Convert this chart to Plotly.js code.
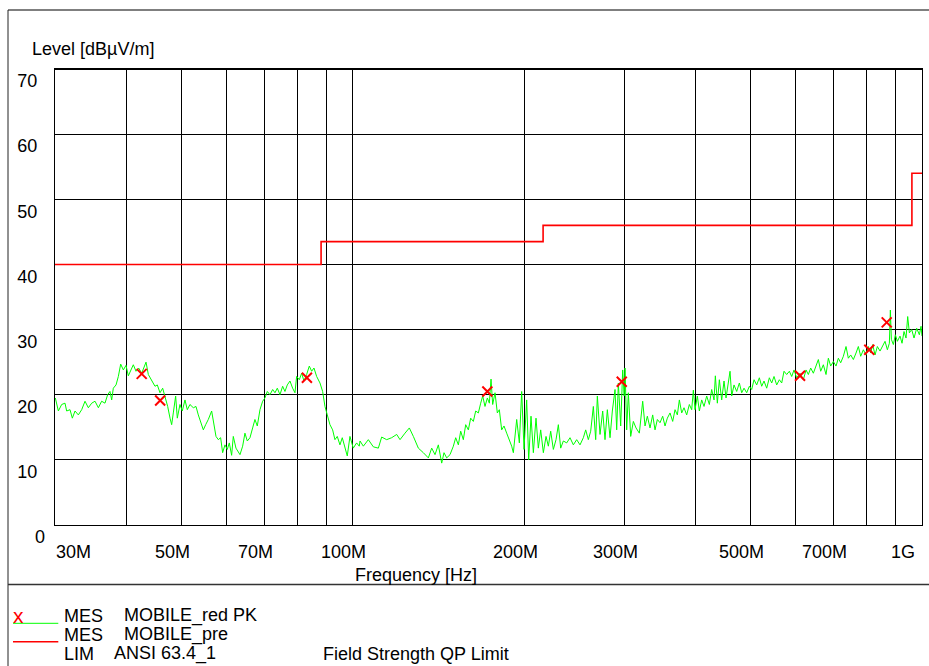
<!DOCTYPE html>
<html><head><meta charset="utf-8">
<script src="https://cdn.plot.ly/plotly-3.0.1.min.js"></script>
<style>html,body{margin:0;padding:0;background:#fff}#chart{width:929px;height:666px}</style>
</head><body><div id="chart"></div>
<script>
// ---- data (frequency in MHz, level in dBµV/m) ----
const freqMHz = [
30.04, 30.41, 30.82, 31.24, 31.45, 31.88, 32.18, 32.53, 32.97, 33.42,
33.87, 34.33, 34.80, 35.27, 35.75, 36.23, 36.72, 37.12, 37.47, 37.73,
37.98, 38.40, 38.76, 39.13, 39.55, 39.98, 40.36, 40.74, 41.18, 41.63,
42.08, 42.60, 43.00, 43.35, 43.76, 44.35, 44.95, 45.38, 45.87, 46.37,
46.81, 47.32, 47.77, 48.09, 48.41, 48.87, 49.20, 49.73, 50.20, 50.75,
51.23, 51.78, 52.49, 53.06, 53.56, 54.07, 54.66, 55.18, 55.77, 56.53,
56.91, 57.53, 58.07, 58.62, 59.10, 59.66, 60.22, 60.71, 61.29, 61.70,
62.37, 62.96, 63.39, 64.08, 64.68, 65.30, 66.01, 66.72, 67.35, 67.99,
68.73, 69.48, 70.13, 70.80, 71.57, 72.35, 73.03, 73.72, 74.52, 75.33,
76.04, 76.76, 77.60, 78.44, 79.18, 79.72, 80.58, 81.35, 82.12, 83.01,
83.91, 84.71, 85.51, 86.44, 87.61, 88.56, 89.40, 90.24, 91.22, 92.21,
93.08, 93.96, 94.98, 95.88, 96.92, 97.84, 98.90, 100.24, 101.60, 102.70,
103.01, 104.40, 106.54, 108.71, 110.94, 112.44, 114.74, 117.08, 119.48, 121.10,
123.57, 125.75, 127.81, 130.42, 133.08, 135.80, 137.65, 139.51, 141.40, 143.33,
144.68, 146.25, 148.24, 150.25, 151.68, 153.32, 154.78, 156.45, 157.94, 159.65,
161.16, 162.91, 164.46, 166.24, 167.82, 169.18, 170.78, 172.40, 173.80, 174.98,
176.16, 177.83, 179.51, 180.97, 182.69, 184.42, 186.42, 188.44, 190.23, 191.52,
194.12, 196.22, 198.08, 199.96, 202.13, 203.77, 205.70, 207.65, 209.90, 211.89,
213.91, 216.22, 218.57, 220.64, 222.74, 225.15, 227.59, 229.75, 231.93, 234.44,
237.63, 240.85, 244.12, 247.43, 250.79, 254.19, 256.61, 259.38, 261.85, 264.69,
267.20, 269.00, 271.92, 274.87, 277.47, 280.10, 283.14, 285.82, 288.93, 290.89,
292.85, 295.63, 298.03, 299.84, 300.85, 302.89, 304.93, 307.83, 311.16, 314.54,
318.80,
323.14, 326.20, 329.29, 332.86, 336.48, 339.66, 342.88, 346.60, 350.36, 353.69,
357.03, 360.91, 364.83, 368.28, 371.77, 374.79, 378.35, 381.93, 386.08, 390.26,
393.97, 396.62, 399.31, 403.09, 406.37, 410.23, 414.11, 418.61, 423.14, 427.16,
431.21, 433.53, 437.05, 440.60, 444.79, 449.00, 452.65, 456.93, 460.03, 463.15,
467.53, 472.61, 477.72, 482.27, 486.83, 492.12, 497.45, 502.17, 506.93, 512.43,
517.98, 522.90, 527.85, 533.58, 539.35, 544.48, 549.64, 555.61, 561.62, 566.96,
572.32, 578.54, 584.80, 590.36, 595.95, 602.42, 610.59, 618.87, 625.58, 631.51,
637.52, 644.41, 651.41, 657.57, 663.82, 671.00, 678.29, 684.72, 691.22, 698.70,
706.29, 712.97, 719.76, 727.55, 735.44, 742.40, 749.47, 757.58, 765.80, 773.05,
780.41, 788.85, 797.41, 804.96, 812.61, 819.21, 826.97, 834.80, 843.87, 853.03,
861.10, 869.26, 876.32, 879.87, 883.44, 890.61, 897.85, 905.14, 914.97, 922.40,
929.90, 937.45, 943.80, 950.16, 959.19, 968.28, 978.80, 989.39, 996.08, 1000
];
const levelDb = [
19.5, 17.5, 18.5, 18.7, 17.5, 17.7, 16.4, 17.5, 16.9, 17.7,
19.0, 18.0, 18.7, 19.0, 18.0, 19.0, 18.7, 20.0, 20.5, 19.2,
21.0, 21.5, 22.8, 24.7, 23.8, 24.5, 22.9, 23.8, 24.6, 23.6,
24.1, 23.3, 24.4, 25.0, 23.1, 22.3, 21.3, 21.5, 20.3, 21.0,
19.8, 18.2, 16.4, 15.4, 17.2, 19.8, 16.4, 18.5, 17.5, 19.2,
17.7, 18.5, 18.0, 18.2, 16.9, 15.9, 14.6, 15.4, 16.2, 17.5,
15.7, 13.6, 13.1, 13.4, 11.1, 12.3, 11.6, 12.6, 10.7, 13.6,
11.8, 11.3, 10.8, 12.1, 14.1, 12.9, 13.4, 14.9, 16.2, 15.2,
17.7, 19.0, 19.5, 20.5, 20.0, 20.8, 20.3, 21.0, 20.0, 21.3,
20.5, 21.5, 22.1, 21.0, 20.3, 22.8, 22.3, 23.3, 22.1, 23.1,
24.4, 23.6, 24.1, 22.8, 21.8, 20.5, 18.2, 16.9, 15.4, 14.6,
13.1, 13.6, 12.3, 13.4, 12.1, 10.6, 13.6, 11.8, 12.6, 12.1,
12.9, 12.1, 13.1, 12.0, 11.8, 13.5, 13.1, 13.4, 13.9, 13.1,
14.1, 14.9, 13.6, 11.8, 11.1, 10.3, 11.8, 10.8, 12.3, 9.5,
11.1, 10.3, 10.8, 12.1, 13.4, 12.3, 14.4, 13.1, 15.4, 14.6,
16.4, 15.9, 17.5, 17.2, 18.7, 19.8, 18.2, 19.5, 18.7, 22.4,
18.5, 20.3, 17.2, 17.7, 14.6, 15.2, 14.1, 13.1, 12.1, 11.1,
16.2, 12.6, 20.5, 11.6, 19.2, 10.0, 16.7, 11.1, 16.4, 11.8,
14.6, 11.1, 13.6, 12.1, 14.4, 11.6, 13.1, 15.4, 11.8, 12.9,
12.6, 13.4, 12.3, 13.1, 12.3, 13.4, 14.6, 13.1, 14.4, 18.2,
13.1, 19.8, 13.9, 17.5, 13.1, 17.7, 13.4, 17.5, 20.8, 14.6,
21.8, 15.2, 23.8, 19.8, 24.1, 14.6, 20.3, 13.6, 15.9, 14.9,
14.1,
19.0, 15.2, 16.7, 14.9, 16.9, 14.6, 16.2, 15.7, 16.7, 15.2,
16.4, 17.2, 15.9, 17.7, 16.9, 19.2, 17.2, 18.0, 16.9, 18.5,
17.7, 20.7, 17.7, 19.8, 17.5, 19.2, 18.2, 19.8, 18.5, 20.8,
19.2, 22.9, 18.7, 22.3, 19.2, 22.1, 19.5, 21.8, 23.6, 19.8,
21.5, 20.5, 21.8, 20.3, 21.0, 20.3, 21.3, 20.8, 22.3, 21.5,
22.6, 21.3, 22.1, 21.0, 22.6, 21.8, 22.8, 21.5, 22.3, 21.8,
23.6, 23.1, 23.6, 22.8, 23.8, 22.6, 23.3, 22.3, 23.8, 23.1,
24.1, 23.3, 24.6, 25.4, 23.6, 24.6, 23.1, 25.6, 24.4, 25.1,
24.4, 25.6, 24.9, 25.9, 27.4, 25.6, 26.1, 25.4, 26.4, 27.4,
25.9, 26.9, 26.1, 27.4, 26.4, 27.7, 26.1, 27.4, 26.7, 27.4,
28.2, 26.9, 27.9, 33.0, 28.5, 27.7, 29.2, 28.2, 29.0, 27.9,
29.7, 28.7, 32.0, 29.5, 30.0, 28.7, 30.2, 29.2, 30.5, 29.0
];
const peakFreqMHz = [42.6, 45.9, 83.1, 172.4, 296.9, 610.6, 808, 867];
const peakLevelDb = [23.2, 19.1, 22.6, 20.5, 22.0, 22.9, 26.9, 31.1];
const limitFreqMHz = [30, 88, 216, 960, 1000];
const limitLevelDb = [40, 43.5, 46, 54, 54];
const gridFreqMHz = [40, 50, 60, 70, 80, 90, 100, 200, 300, 400, 500, 600, 700, 800, 900];
const xTickVals = [30, 50, 70, 100, 200, 300, 500, 700, 1000];
const xTickText = ['30M', '50M', '70M', '100M', '200M', '300M', '500M', '700M', '1G'];
const yTickVals = [0, 10, 20, 30, 40, 50, 60, 70];
const yTickText = ['0', '10', '20', '30', '40', '50', '60', '70'];
const legendCol1 = ['MES', 'MES', 'LIM'];
const legendCol2 = ['MOBILE_red PK', 'MOBILE_pre', 'ANSI 63.4_1'];
const legendCol3 = ['', '', 'Field Strength QP Limit'];

// ---- layout helpers (page pixels -> paper coords) ----
const ML = 55, MT = 69, PW = 867, PH = 456, FW = 929, FH = 666;
const px = x => (x - ML) / PW;
const py = y => (MT + PH - y) / PH;
const FONT = 'Liberation Sans, Arial, sans-serif';
const FS = 18;

const traces = [
  {x: limitFreqMHz, y: limitLevelDb, type: 'scatter', mode: 'lines',
   line: {color: '#ff0000', width: 1.6, shape: 'hv'}, hoverinfo: 'skip'},
  {x: freqMHz, y: levelDb, type: 'scatter', mode: 'lines',
   line: {color: '#00ff00', width: 1}, hoverinfo: 'skip'},
  {x: peakFreqMHz, y: peakLevelDb, type: 'scatter', mode: 'markers',
   marker: {symbol: 'x-thin', size: 10, line: {color: '#ff0000', width: 2}, color: '#ff0000'}, hoverinfo: 'skip'}
];

const annotations = [];
const ann = (o) => annotations.push(Object.assign({showarrow: false, font: {family: FONT, size: FS, color: '#000'}}, o));

ann({text: 'Level [dBµV/m]', xref: 'paper', yref: 'paper', x: px(30), y: py(48.5), xanchor: 'left', yanchor: 'middle'});
ann({text: 'Frequency [Hz]', xref: 'paper', yref: 'paper', x: px(353), y: py(575), xanchor: 'left', yanchor: 'middle'});
xTickVals.forEach((v, i) => {
  const last = i === xTickVals.length - 1;
  ann({text: xTickText[i], xref: 'x', yref: 'paper', x: Math.log10(v), y: py(551.5),
       xanchor: i === 0 ? 'left' : (last ? 'right' : 'center'),
       xshift: i === 0 ? -1 : (last ? -5 : -9), yanchor: 'middle'});
});
// the "0" label sits a little to the right of the others in the reference
ann({text: yTickText[0], xref: 'paper', yref: 'y', x: px(32.5), y: yTickVals[0], yshift: -12,
     xanchor: 'left', yanchor: 'middle'});
// legend block
ann({text: 'x', xref: 'paper', yref: 'paper', x: px(11), y: py(615.5), xanchor: 'left', yanchor: 'middle', font: {family: FONT, size: 21, color: '#ff0000'}});
const rowY = [615.5, 634.5, 653.7];
legendCol1.forEach((t, i) => {
  ann({text: t, xref: 'paper', yref: 'paper', x: px(62), y: py(rowY[i]), xanchor: 'left', yanchor: 'middle'});
  ann({text: legendCol2[i], xref: 'paper', yref: 'paper', x: px(i === 2 ? 112 : 121.5), y: py(rowY[i]), xanchor: 'left', yanchor: 'middle'});
  if (legendCol3[i]) ann({text: legendCol3[i], xref: 'paper', yref: 'paper', x: px(321), y: py(rowY[i]), xanchor: 'left', yanchor: 'middle'});
});

const line = (x0, y0, x1, y1, color, width) => ({type: 'line', xref: 'paper', yref: 'paper',
  x0: px(x0), y0: py(y0), x1: px(x1), y1: py(y1), line: {color: color, width: width}, layer: 'above'});
const shapes = [
  line(8, 10, FW + 5, 10, '#000', 1.2),
  line(8, 10, 8, FH + 5, '#222', 1),
  line(8, 584.5, FW + 5, 584.5, '#333', 1.3),
  line(ML, MT, ML + PW, MT, '#000', 2),
  line(13, 623.3, 58.3, 623.3, '#00ff00', 1),
  line(13, 641.7, 58.3, 641.7, '#ff0000', 1.5)
];

const layout = {
  width: FW, height: FH,
  margin: {l: ML, r: FW - ML - PW, t: MT, b: FH - MT - PH, pad: 0},
  paper_bgcolor: '#fff', plot_bgcolor: '#fff',
  showlegend: false,
  font: {family: FONT, size: FS, color: '#000'},
  xaxis: {type: 'log', range: [Math.log10(30), 3], tickmode: 'array', tickvals: gridFreqMHz,
          showticklabels: false, ticks: '', showgrid: true, gridcolor: '#000', gridwidth: 1,
          showline: true, linecolor: '#000', linewidth: 1, mirror: true, zeroline: false, fixedrange: true},
  yaxis: {range: [0, 70], tickmode: 'array', tickvals: yTickVals, ticktext: [''].concat(yTickText.slice(1)),
          ticks: '', showgrid: true, gridcolor: '#000', gridwidth: 1, zeroline: false,
          showline: true, linecolor: '#000', linewidth: 1, mirror: true,
          tickfont: {family: FONT, size: FS, color: '#000'},
          ticklabelshift: 12, ticklabelstandoff: 13, fixedrange: true},
  annotations: annotations,
  shapes: shapes
};

Plotly.newPlot('chart', traces, layout, {staticPlot: true, displayModeBar: false});
</script>
</body></html>
